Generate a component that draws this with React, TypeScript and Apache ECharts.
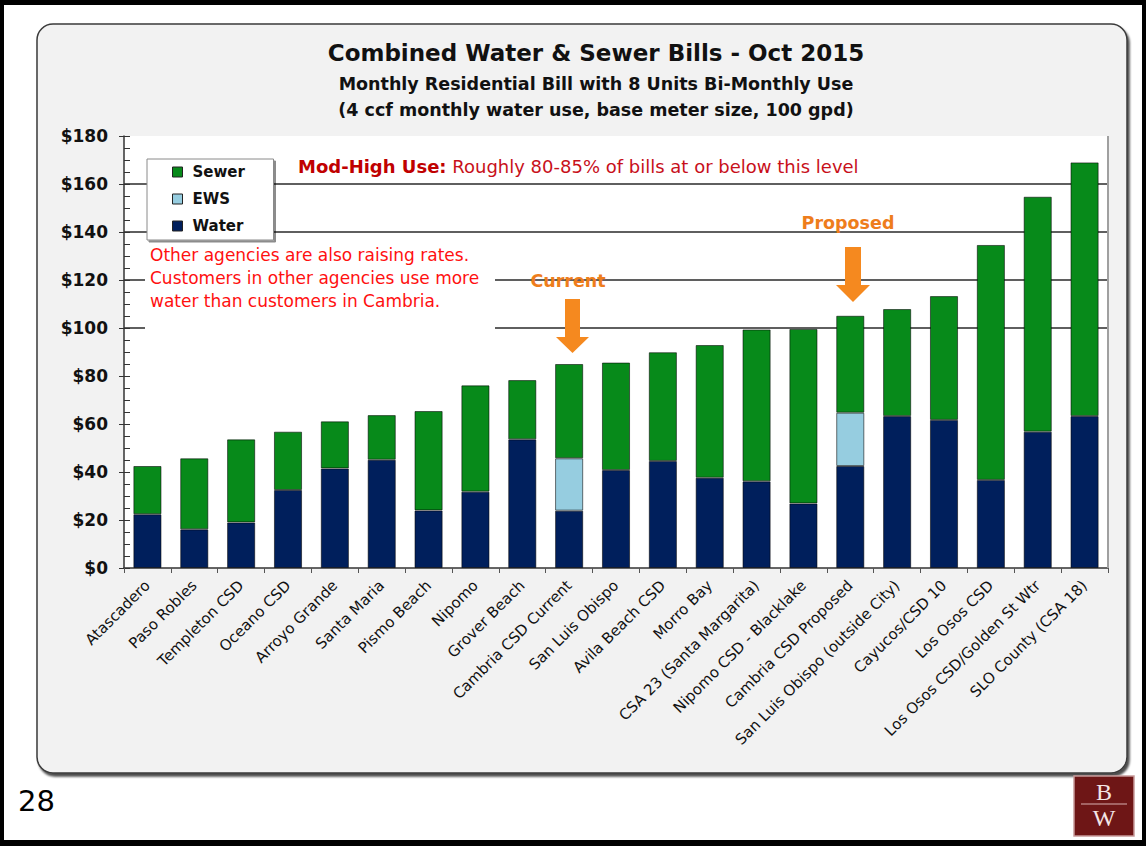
import React, { useEffect, useRef } from "react";
import * as echarts from "echarts";

const categories = [
  "Atascadero",
  "Paso Robles",
  "Templeton CSD",
  "Oceano CSD",
  "Arroyo Grande",
  "Santa Maria",
  "Pismo Beach",
  "Nipomo",
  "Grover Beach",
  "Cambria CSD Current",
  "San Luis Obispo",
  "Avila Beach CSD",
  "Morro Bay",
  "CSA 23 (Santa Margarita)",
  "Nipomo CSD - Blacklake",
  "Cambria CSD Proposed",
  "San Luis Obispo (outside City)",
  "Cayucos/CSD 10",
  "Los Osos CSD",
  "Los Osos CSD/Golden St Wtr",
  "SLO County (CSA 18)",
];

const water = [22.4, 16.1, 19.0, 32.5, 41.5, 45.1, 24.0, 31.8, 53.6, 23.9, 40.8, 44.6, 37.6, 36.1, 26.9, 42.5, 63.3, 61.7, 36.7, 56.8, 63.3];
const ews = [null, null, null, null, null, null, null, null, null, 21.8, null, null, null, null, null, 22.2, null, null, null, null, null];
const sewer = [20.1, 29.6, 34.6, 24.3, 19.6, 18.6, 41.4, 44.3, 24.7, 39.3, 44.8, 45.3, 55.3, 63.3, 72.7, 40.4, 44.6, 51.6, 97.9, 97.9, 105.7];

const yMin = 0;
const yMax = 180;
const yInterval = 20;
const gridLineValues = [100, 120, 140, 160];

const FONT = "'DejaVu Sans', Verdana, sans-serif";
const SERIF = "'Liberation Serif', 'DejaVu Serif', serif";
const GREEN = "#078a1a";
const NAVY = "#001f5c";
const LIGHTBLUE = "#96cde0";
const ORANGE = "#f5891f";

export default function App() {
  const ref = useRef<HTMLDivElement>(null);

  useEffect(() => {
    if (!ref.current) return;
    const chart = echarts.init(ref.current, null, { renderer: "svg" });

    const tickCount = Math.round((yMax - yMin) / yInterval) + 1;
    const splitColors: string[] = [];
    for (let i = 0; i < tickCount; i++) {
      const v = yMin + i * yInterval;
      splitColors.push(gridLineValues.includes(v) ? "#2a2a2a" : "rgba(0,0,0,0)");
    }

    const barStyle = (color: string) => ({
      color,
      borderColor: "rgba(0,0,0,0.55)",
      borderWidth: 1,
    });

    const option: any = {
      animation: false,
      backgroundColor: "#ffffff",
      textStyle: { fontFamily: FONT },
      grid: {
        left: 124,
        right: 38,
        top: 136,
        bottom: 278,
        show: true,
        backgroundColor: "#ffffff",
        borderWidth: 0,
      },
      legend: {
        data: ["Sewer", "EWS", "Water"],
        orient: "vertical",
        left: 147,
        top: 159,
        padding: [4, 21, 5, 25],
        itemGap: 9,
        itemWidth: 10,
        itemHeight: 10,
        icon: "rect",
        backgroundColor: "#ffffff",
        borderColor: "#8a8a8a",
        borderWidth: 1,
        shadowColor: "rgba(0,0,0,0.45)",
        shadowOffsetX: 2,
        shadowOffsetY: 2,
        shadowBlur: 1,
        itemStyle: { borderColor: "#222", borderWidth: 1 },
        textStyle: {
          fontFamily: FONT,
          fontSize: 15,
          fontWeight: "bold",
          color: "#111",
          lineHeight: 18,
          width: 60,
          padding: [0, 0, 0, 5],
        },
      },
      xAxis: {
        type: "category",
        data: categories,
        axisLine: { lineStyle: { color: "#333", width: 1.5 } },
        axisTick: { show: true, length: 5, lineStyle: { color: "#555" } },
        axisLabel: {
          interval: 0,
          rotate: 45,
          fontSize: 15,
          fontFamily: FONT,
          color: "#111",
          margin: 15,
        },
        splitLine: { show: false },
      },
      yAxis: [
        {
          type: "value",
          min: yMin,
          max: yMax,
          interval: yInterval,
          axisLine: { show: true, lineStyle: { color: "#333", width: 1.5 } },
          axisTick: { show: true, length: 5, lineStyle: { color: "#333" } },
          axisLabel: {
            formatter: (v: number) => "$" + v,
            fontSize: 17,
            fontWeight: "bold",
            fontFamily: FONT,
            color: "#111",
            margin: 16,
          },
          splitLine: {
            show: true,
            lineStyle: { color: splitColors, width: 1.6 },
          },
        },
        {
          type: "value",
          min: yMin,
          max: yMax,
          interval: 5,
          position: "left",
          axisLine: { show: false },
          axisTick: { show: true, inside: true, length: 6, lineStyle: { color: "#333" } },
          axisLabel: { show: false },
          splitLine: { show: false },
        },
      ],
      series: [
        {
          name: "Water",
          type: "bar",
          stack: "bill",
          data: water,
          barCategoryGap: "40%",
          itemStyle: barStyle(NAVY),
        },
        {
          name: "EWS",
          type: "bar",
          stack: "bill",
          data: ews,
          itemStyle: barStyle(LIGHTBLUE),
        },
        {
          name: "Sewer",
          type: "bar",
          stack: "bill",
          data: sewer,
          itemStyle: barStyle(GREEN),
        },
      ],
      graphic: [
        // page frame
        { type: "rect", z: -20, shape: { x: 0, y: 0, width: 1146, height: 5 }, style: { fill: "#000" } },
        { type: "rect", z: -20, shape: { x: 0, y: 840, width: 1146, height: 6 }, style: { fill: "#000" } },
        { type: "rect", z: -20, shape: { x: 0, y: 0, width: 4, height: 846 }, style: { fill: "#000" } },
        { type: "rect", z: -20, shape: { x: 1142, y: 0, width: 4, height: 846 }, style: { fill: "#000" } },
        // panel
        {
          type: "rect",
          z: -10,
          shape: { x: 37, y: 24, width: 1090, height: 749, r: 16 },
          style: {
            fill: "#f2f2f2",
            stroke: "#3a3a3a",
            lineWidth: 1.5,
            shadowColor: "rgba(0,0,0,0.7)",
            shadowOffsetX: 2,
            shadowOffsetY: 3,
            shadowBlur: 2,
          },
        },
        // plot right edge
        {
          type: "line",
          z: 1,
          shape: { x1: 1108, y1: 136, x2: 1108, y2: 568 },
          style: { stroke: "#a0a0a0", lineWidth: 2 },
        },
        // titles
        {
          type: "text",
          z: 100,
          x: 596,
          y: 53,
          style: {
            text: "Combined Water & Sewer Bills - Oct 2015",
            fontFamily: FONT,
            fontSize: 23,
            fontWeight: "bold",
            fill: "#111",
            align: "center",
            verticalAlign: "middle",
          },
        },
        {
          type: "text",
          z: 100,
          x: 596,
          y: 84,
          style: {
            text: "Monthly Residential Bill with 8 Units Bi-Monthly Use",
            fontFamily: FONT,
            fontSize: 17.5,
            fontWeight: "bold",
            fill: "#111",
            align: "center",
            verticalAlign: "middle",
          },
        },
        {
          type: "text",
          z: 100,
          x: 596,
          y: 110,
          style: {
            text: "(4 ccf monthly water use, base meter size, 100 gpd)",
            fontFamily: FONT,
            fontSize: 17.5,
            fontWeight: "bold",
            fill: "#111",
            align: "center",
            verticalAlign: "middle",
          },
        },
        // Mod-high annotation
        {
          type: "text",
          z: 100,
          x: 298,
          y: 166,
          style: {
            text: "{b|Mod-High Use:} Roughly 80-85% of bills at or below this level",
            fontFamily: FONT,
            fontSize: 18,
            fill: "#c8101a",
            verticalAlign: "middle",
            rich: {
              b: { fontFamily: FONT, fontSize: 18, fontWeight: "bold", fill: "#c00000", color: "#c00000" },
            },
          },
        },
        // white box behind the red note
        {
          type: "rect",
          z: 50,
          shape: { x: 145, y: 264, width: 350, height: 72 },
          style: { fill: "#ffffff" },
        },
        {
          type: "text",
          z: 100,
          x: 150,
          y: 278,
          style: {
            text: "Other agencies are also raising rates.\nCustomers in other agencies use more\nwater than customers in Cambria.",
            fontFamily: FONT,
            fontSize: 17,
            lineHeight: 23,
            fill: "#ff1010",
            verticalAlign: "middle",
          },
        },
        // Current marker
        {
          type: "text",
          z: 100,
          x: 568,
          y: 281,
          style: {
            text: "Current",
            fontFamily: FONT,
            fontSize: 17.5,
            fontWeight: "bold",
            fill: "#ee7d1c",
            align: "center",
            verticalAlign: "middle",
          },
        },
        {
          type: "polygon",
          z: 100,
          shape: {
            points: [
              [565, 299],
              [580, 299],
              [580, 337],
              [589, 337],
              [572.5, 353],
              [556, 337],
              [565, 337],
            ],
          },
          style: { fill: ORANGE },
        },
        // Proposed marker
        {
          type: "text",
          z: 100,
          x: 848,
          y: 223,
          style: {
            text: "Proposed",
            fontFamily: FONT,
            fontSize: 17.5,
            fontWeight: "bold",
            fill: "#ee7d1c",
            align: "center",
            verticalAlign: "middle",
          },
        },
        {
          type: "polygon",
          z: 100,
          shape: {
            points: [
              [845, 247],
              [861, 247],
              [861, 285],
              [870, 285],
              [853, 302],
              [836, 285],
              [845, 285],
            ],
          },
          style: { fill: ORANGE },
        },
        // page number
        {
          type: "text",
          z: 100,
          x: 18,
          y: 801,
          style: {
            text: "28",
            fontFamily: FONT,
            fontSize: 29,
            fill: "#000",
            verticalAlign: "middle",
          },
        },
        // logo
        {
          type: "rect",
          z: 100,
          shape: { x: 1074, y: 776, width: 60, height: 60 },
          style: { fill: "#6e1616", stroke: "#c89a9a", lineWidth: 1.5 },
        },
        {
          type: "line",
          z: 101,
          shape: { x1: 1081, y1: 804, x2: 1127, y2: 804 },
          style: { stroke: "#d8b0b0", lineWidth: 1.2 },
        },
        {
          type: "text",
          z: 101,
          x: 1104,
          y: 792,
          style: {
            text: "B",
            fontFamily: SERIF,
            fontSize: 24,
            fill: "#f4e6e6",
            align: "center",
            verticalAlign: "middle",
          },
        },
        {
          type: "text",
          z: 101,
          x: 1104,
          y: 818,
          style: {
            text: "W",
            fontFamily: SERIF,
            fontSize: 24,
            fill: "#f4e6e6",
            align: "center",
            verticalAlign: "middle",
          },
        },
      ],
    };

    chart.setOption(option);
    return () => chart.dispose();
  }, []);

  return (
    <div
      ref={ref}
      style={{ position: "absolute", left: 0, top: 0, width: 1146, height: 846 }}
    />
  );
}
